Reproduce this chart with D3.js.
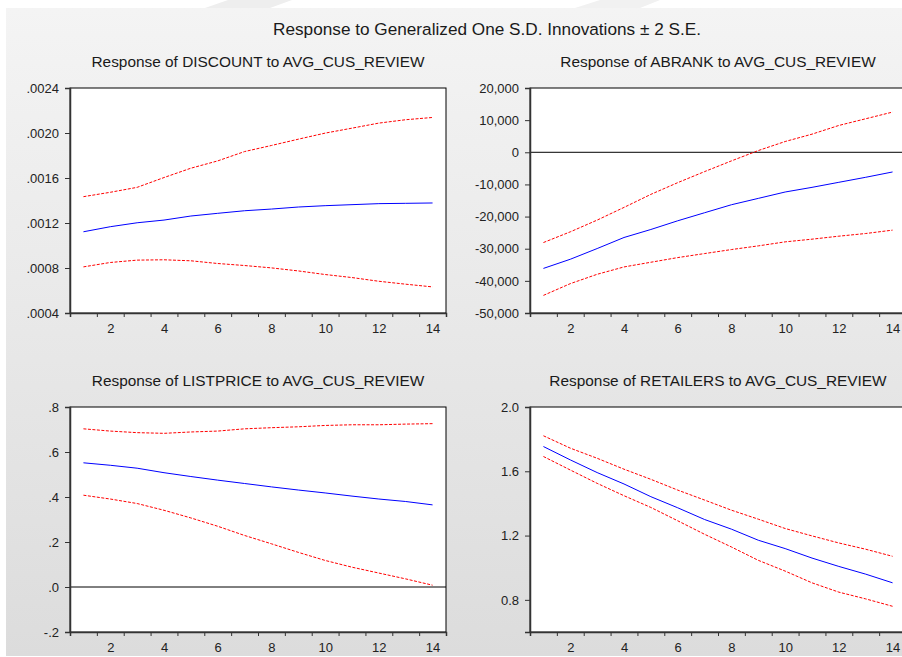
<!DOCTYPE html>
<html>
<head>
<meta charset="utf-8">
<script src="https://cdn.jsdelivr.net/npm/d3@7"></script>
<style>
  html, body { margin: 0; padding: 0; background: #fff; }
  svg { display: block; font-family: "Liberation Sans", Arial, sans-serif; }
</style>
</head>
<body>
<script>
// periods 1..14
let periods = [1, 2, 3, 4, 5, 6, 7, 8, 9, 10, 11, 12, 13, 14]
let xTickLabels = [2, 4, 6, 8, 10, 12, 14]

// DISCOUNT
let discountResp = [.001122, .001167, .001202, .001226, .001262, .001286, .001309, .001324, .001342, .001354, .001363, .001372, .001375, .001378]
let discountUpper = [.001434, .001473, .001517, .001604, .001687, .001752, .001835, .001889, .001945, .001999, .002043, .002088, .002118, .002138]
let discountLower = [.000810, .000849, .000870, .000873, .000864, .000840, .000822, .000801, .000774, .000742, .000715, .000682, .000656, .000632]
let discountTicks = [.0004, .0008, .0012, .0016, .0020, .0024]

// ABRANK
let abrankResp = [-36130, -33280, -29950, -26510, -24020, -21310, -18810, -16320, -14340, -12360, -10910, -9340, -7780, -6120]
let abrankUpper = [-28080, -24750, -21100, -17150, -13090, -9450, -6010, -2680, 540, 3350, 5640, 8350, 10430, 12510]
let abrankLower = [-44520, -40870, -37960, -35670, -34210, -32760, -31510, -30260, -29120, -27870, -27030, -26100, -25270, -24220]
let abrankTicks = [-50000, -40000, -30000, -20000, -10000, 0, 10000, 20000]

// LISTPRICE
let listpriceResp = [.552, .541, .528, .508, .491, .475, .460, .445, .431, .418, .404, .391, .380, .365]
let listpriceUpper = [.703, .693, .686, .683, .689, .693, .703, .708, .712, .718, .721, .721, .724, .726]
let listpriceLower = [.408, .391, .371, .341, .307, .270, .229, .192, .154, .118, .088, .062, .036, .008]
let listpriceTicks = [-.2, 0, .2, .4, .6, .8]

// RETAILERS
let retailersResp = [1.754, 1.671, 1.592, 1.521, 1.442, 1.373, 1.300, 1.240, 1.171, 1.119, 1.060, 1.008, .960, .906]
let retailersUpper = [1.821, 1.744, 1.681, 1.613, 1.550, 1.483, 1.421, 1.358, 1.302, 1.244, 1.198, 1.154, 1.115, 1.071]
let retailersLower = [1.692, 1.608, 1.525, 1.448, 1.375, 1.292, 1.208, 1.129, 1.046, .979, .906, .848, .806, .760]
let retailersTicks = [.8, 1.2, 1.6, 2.0]

let W = 902, H = 657
let plotW = 376, plotH = 225

// plain hyphen for negatives, like the original
let loc = d3.formatLocale({ decimal: ".", thousands: ",", grouping: [3], currency: ["", ""], minus: "-" })
let dropZero = f => v => f(v).replace(/^(-?)0\./, "$1.")

let panels = [
  { title: "Response of DISCOUNT to AVG_CUS_REVIEW", left: 70, top: 88,
    domain: [.0004, .0024], ticks: discountTicks, fmt: dropZero(loc.format(".4f")),
    resp: discountResp, upper: discountUpper, lower: discountLower, zero: false },
  { title: "Response of ABRANK to AVG_CUS_REVIEW", left: 530, top: 88,
    domain: [-50000, 20000], ticks: abrankTicks, fmt: loc.format(","),
    resp: abrankResp, upper: abrankUpper, lower: abrankLower, zero: true },
  { title: "Response of LISTPRICE to AVG_CUS_REVIEW", left: 70, top: 407,
    domain: [-.2, .8], ticks: listpriceTicks, fmt: dropZero(loc.format(".1f")),
    resp: listpriceResp, upper: listpriceUpper, lower: listpriceLower, zero: true },
  { title: "Response of RETAILERS to AVG_CUS_REVIEW", left: 530, top: 407,
    domain: [.6, 2.0], ticks: retailersTicks, fmt: loc.format(".1f"),
    resp: retailersResp, upper: retailersUpper, lower: retailersLower, zero: false }
]

let svg = d3.select("body").append("svg")
  .attr("width", W).attr("height", H)

// grey gradient background
let grad = svg.append("defs").append("linearGradient")
  .attr("id", "bg").attr("x1", 0).attr("y1", 0).attr("x2", 0).attr("y2", 1)
grad.append("stop").attr("offset", "0%").attr("stop-color", "#f4f4f4")
grad.append("stop").attr("offset", "100%").attr("stop-color", "#dcdcdc")

svg.append("rect").attr("x", 0).attr("y", 0).attr("width", W).attr("height", H).attr("fill", "#fff")
svg.append("rect").attr("x", 6).attr("y", 8).attr("width", W - 6).attr("height", 648).attr("fill", "url(#bg)")

// faint watermark shapes in the top strip
svg.append("polygon").attr("points", "228,0 292,0 270,8 205,8").attr("fill", "#eeeeee")
svg.append("polygon").attr("points", "600,0 660,0 640,8 575,8").attr("fill", "#f1f1f1")

svg.append("text")
  .attr("x", 487).attr("y", 35)
  .attr("text-anchor", "middle")
  .attr("font-size", 17.2).attr("fill", "#1a1a1a")
  .text("Response to Generalized One S.D. Innovations \u00b1 2 S.E.")

panels.forEach(p => {
  let x = d3.scaleLinear().domain([0.5, 14.5]).range([p.left, p.left + plotW])
  let y = d3.scaleLinear().domain(p.domain).range([p.top + plotH, p.top])

  svg.append("text")
    .attr("x", p.left + plotW / 2).attr("y", p.top - 21)
    .attr("text-anchor", "middle")
    .attr("font-size", 15.4).attr("fill", "#1a1a1a")
    .text(p.title)

  svg.append("rect")
    .attr("x", p.left).attr("y", p.top).attr("width", plotW).attr("height", plotH)
    .attr("fill", "#fff").attr("stroke", "#000").attr("stroke-width", 1)

  if (p.zero) {
    svg.append("line")
      .attr("x1", p.left).attr("x2", p.left + plotW)
      .attr("y1", y(0)).attr("y2", y(0))
      .attr("stroke", "#000").attr("stroke-width", 1)
  }

  // y axis
  let yAxis = d3.axisLeft(y).tickValues(p.ticks).tickFormat(p.fmt).tickSize(5).tickPadding(6)
  let gy = svg.append("g").attr("transform", `translate(${p.left},0)`).call(yAxis)

  // x axis: ticks between periods, labels on even periods
  let gx = svg.append("g").attr("transform", `translate(0,${p.top + plotH})`)
    .call(d3.axisBottom(x).tickValues(d3.range(0.5, 15, 1)).tickFormat("").tickSize(4))
  svg.append("g").attr("transform", `translate(0,${p.top + plotH})`)
    .call(d3.axisBottom(x).tickValues(xTickLabels).tickSize(0).tickPadding(11))
    .call(g => g.select(".domain").remove())
    .selectAll("text").attr("font-size", 13).attr("fill", "#222")

  ;[gy, gx].forEach(g => {
    g.select(".domain").attr("stroke", "#333").attr("stroke-width", 1.5)
    g.selectAll(".tick line").attr("stroke", "#333")
  })
  gy.selectAll("text").attr("font-size", 13).attr("fill", "#222")

  let line = d3.line().x((d, i) => x(periods[i])).y(d => y(d))

  svg.append("path").datum(p.upper).attr("d", line)
    .attr("fill", "none").attr("stroke", "#ff0000").attr("stroke-width", 1)
    .attr("stroke-dasharray", "3,1.5")
  svg.append("path").datum(p.lower).attr("d", line)
    .attr("fill", "none").attr("stroke", "#ff0000").attr("stroke-width", 1)
    .attr("stroke-dasharray", "3,1.5")
  svg.append("path").datum(p.resp).attr("d", line)
    .attr("fill", "none").attr("stroke", "#0000ff").attr("stroke-width", 1)
})
</script>
</body>
</html>
